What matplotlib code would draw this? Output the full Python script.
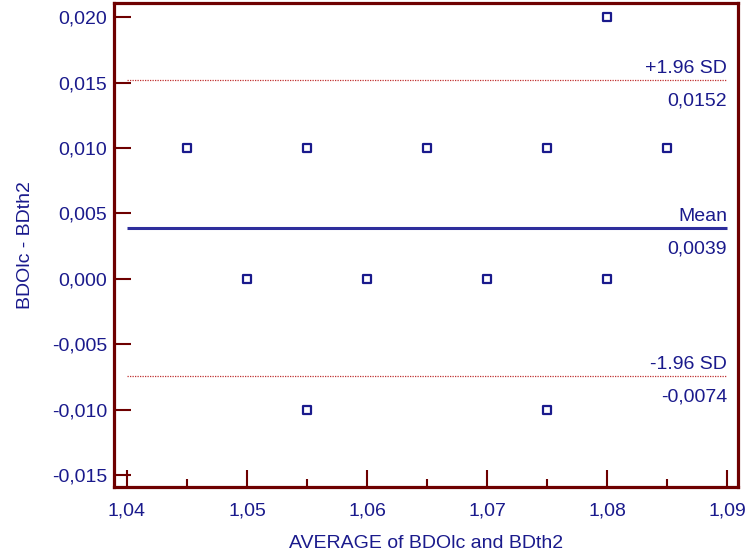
import matplotlib
matplotlib.use("Agg")
import matplotlib.pyplot as plt
from matplotlib.ticker import MultipleLocator, FuncFormatter

avg = [1.045, 1.055, 1.065, 1.075, 1.085, 1.080, 1.050, 1.060, 1.070, 1.080, 1.055, 1.075]
diff = [0.010, 0.010, 0.010, 0.010, 0.010, 0.020, 0.000, 0.000, 0.000, 0.000, -0.010, -0.010]
mean_val = 0.0039
upper = 0.0152
lower = -0.0074
xticks = [1.04, 1.05, 1.06, 1.07, 1.08, 1.09]
yticks = [-0.015, -0.010, -0.005, 0.000, 0.005, 0.010, 0.015, 0.020]

navy = "#1a1a8c"
maroon = "#6e0000"
plt.rcParams['font.family'] = ['Liberation Sans', 'DejaVu Sans']

fig = plt.figure(figsize=(7.47, 5.56), dpi=100)
ax = fig.add_axes([0.1526, 0.1241, 0.8354, 0.8705])

ax.set_xlim(1.03892, 1.09092)
ax.set_ylim(-0.01588, 0.02107)

x0, x1 = xticks[0], xticks[-1]
ax.plot([x0, x1], [mean_val, mean_val], color="#2e2e9c", lw=2.2, solid_capstyle='butt')
ax.plot([x0, x1], [upper, upper], color="#c03030", lw=0.9, ls=(0, (1, 1)))
ax.plot([x0, x1], [lower, lower], color="#c03030", lw=0.9, ls=(0, (1, 1)))

ax.scatter(avg, diff, marker='s', s=28, facecolors='white', edgecolors=navy, linewidths=1.6, zorder=3)

fs = 14
for yv, top, bot in [(upper, "+1.96 SD", "0,0152"), (mean_val, "Mean", "0,0039"), (lower, "-1.96 SD", "-0,0074")]:
    ax.annotate(top, (x1, yv), xytext=(0, 2), textcoords='offset points', ha='right', va='bottom',
                color=navy, fontsize=fs)
    ax.annotate(bot, (x1, yv), xytext=(0, -9), textcoords='offset points', ha='right', va='top',
                color=navy, fontsize=fs)

ax.set_xticks(xticks)
ax.set_yticks(yticks)
ax.xaxis.set_minor_locator(MultipleLocator(0.005))
ax.xaxis.set_major_formatter(FuncFormatter(lambda v, p: f"{v:.2f}".replace('.', ',')))
ax.yaxis.set_major_formatter(FuncFormatter(lambda v, p: f"{v:.3f}".replace('.', ',').replace('-0,000', '0,000')))
ax.tick_params(axis='both', which='major', direction='in', length=12, width=1.5, color=maroon,
               labelcolor=navy, labelsize=fs)
ax.tick_params(axis='y', which='major', pad=5)
ax.tick_params(axis='x', which='major', pad=11)
ax.tick_params(axis='x', which='minor', direction='in', length=6, width=1.5, color=maroon)

for s in ax.spines.values():
    s.set_color(maroon)
    s.set_linewidth(2.3)

ax.set_xlabel("AVERAGE of BDOlc and BDth2", color=navy, fontsize=fs, labelpad=11.5)
ax.set_ylabel("BDOlc - BDth2", color=navy, fontsize=fs, labelpad=12.5)

fig.savefig("out.png", dpi=100)
